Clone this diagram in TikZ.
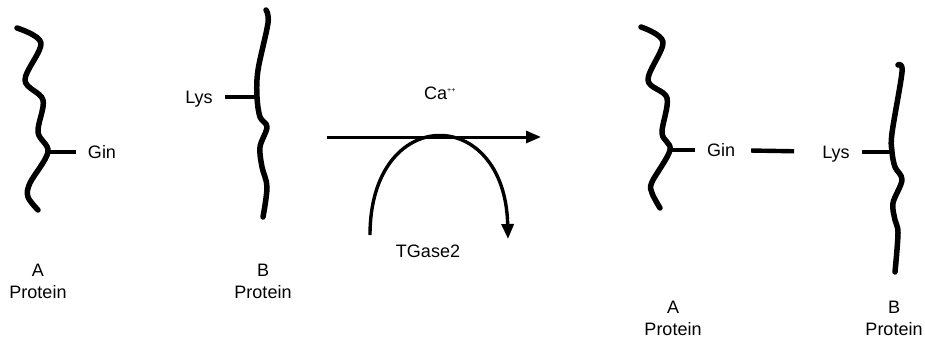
\documentclass[tikz,border=0pt]{standalone}
\usepackage{fontspec}
\setmainfont{Liberation Sans}
\usetikzlibrary{arrows.meta}

\begin{document}
\begin{tikzpicture}[
    x=1pt, y=-1pt,
    font=\fontsize{18}{22}\selectfont,
    pchain/.style={line width=5.5pt, line cap=round, line join=round},
    side/.style={line width=3.4pt},
    react/.style={line width=3pt, -{Triangle[length=15pt,width=12pt]}},
    lbl/.style={inner xsep=12pt, inner ysep=0pt, text height=13pt, text depth=0pt},
    protlbl/.style={align=center, inner sep=0pt}
]
\useasboundingbox (0,0) rectangle (925,340);

% left side: free proteins
\draw[pchain] plot[smooth, tension=0.55] coordinates {(17,28) (41,43) (25,80) (43,100) (38,132) (48,152) (30,183) (28,197) (38,210)};
\coordinate (jA) at (48,152);
\node[lbl] (ginA) at (102,152) {Gin};
\draw[side] (jA) -- (ginA);
\node[protlbl] (protA) at (38,281) {A\\Protein};

\draw[pchain] plot[smooth, tension=0.55] coordinates {(266,10) (268,23) (258,70) (257,97) (260,117) (267,127) (260,147) (262,167) (267,187) (263,217)};
\coordinate (jB) at (257,97);
\node[lbl] (lysA) at (199,97) {Lys};
\draw[side] (jB) -- (lysA);
\node[protlbl] (protB) at (263,281) {B\\Protein};

% reaction
\coordinate (rs) at (327,137);
\coordinate (re) at (541,137);
\draw[react] (rs) -- (re);
\node (ca) at (440,93) {Ca\textsuperscript{\scriptsize ++}};
\coordinate (arcS) at (370,235);
\coordinate (arcE) at (508,239);
\draw[react, line width=3.4pt] (arcS) .. controls (370,104) and (505,104) .. (arcE);
\node (tg) at (428,251) {TGase2};

% right side: cross-linked proteins
\draw[pchain] plot[smooth, tension=0.55] coordinates {(641,27) (663,42) (648,80) (667,98) (662,133) (670,150) (652,182) (652,193) (660,208)};
\coordinate (jC) at (670,150);
\node[lbl] (ginB) at (721,150) {Gin};
\draw[side] (jC) -- (ginB);
\node[protlbl] (protC) at (673,318) {A\\Protein};

\draw[pchain] plot[smooth, tension=0.55] coordinates {(898,65) (902,72) (892,133) (892,152) (895,167) (902,180) (893,203) (895,220) (898,233) (895,272)};
\coordinate (jD) at (892,152);
\node[lbl] (lysB) at (836,152) {Lys};
\draw[side] (jD) -- (lysB);
\node[protlbl] (protD) at (894,318) {B\\Protein};

\draw[side, line width=4.4pt, shorten <=4pt, shorten >=16pt] (ginB) -- (lysB);
\end{tikzpicture}
\end{document}
